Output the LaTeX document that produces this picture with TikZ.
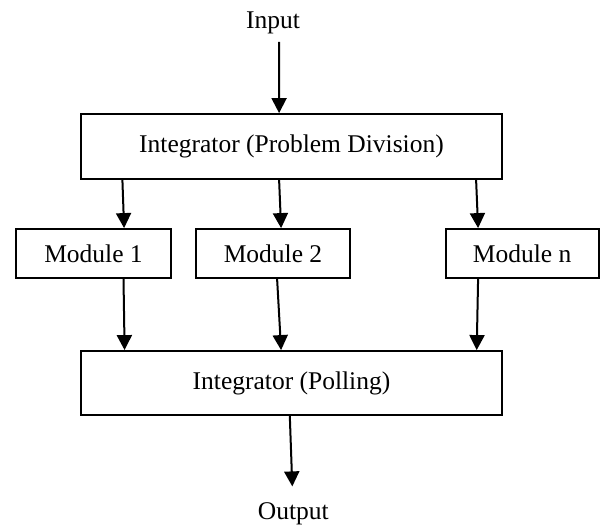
\documentclass[tikz,border=0pt]{standalone}
\usepackage{fontspec}
\setmainfont{Liberation Serif}
\usetikzlibrary{arrows.meta}
\begin{document}
\begin{tikzpicture}[x=1pt,y=-1pt,
  box/.style={draw=black, line width=1.8pt, rectangle, inner sep=0pt, anchor=center,
    font=\fontsize{25.5}{30}\selectfont},
  lbl/.style={inner sep=0pt, anchor=base, font=\fontsize{25.5}{30}\selectfont},
  arr/.style={line width=2pt, -{Triangle[width=15pt,length=15pt]}}]
\useasboundingbox (0,0) rectangle (600,526);
\node[lbl] (input) at (273,28.3) {Input};
\node[box, minimum width=421pt, minimum height=65pt] (top) at (291.5,146.5) {Integrator (Problem Division)};
\node[box, minimum width=154.4pt, minimum height=49pt] (m1) at (93.5,253.5) {Module 1};
\node[box, minimum width=154pt, minimum height=49pt] (m2) at (273,253.5) {Module 2};
\node[box, minimum width=153pt, minimum height=49pt] (mn) at (522.2,253.5) {Module n};
\node[box, minimum width=421pt, minimum height=64pt] (bot) at (291.5,383) {Integrator (Polling)};
\node[lbl] (output) at (293.3,519.5) {Output};
\draw[arr] ([xshift=6pt,yshift=-8pt]input.south) -- ([xshift=199pt]top.north west);
\draw[arr] ([xshift=42.3pt]top.south west) -- ([xshift=108.7pt]m1.north west);
\draw[arr] ([xshift=199pt]top.south west) -- ([xshift=86pt]m2.north west);
\draw[arr] ([xshift=396pt]top.south west) -- ([xshift=33.3pt]mn.north west);
\draw[arr] ([xshift=108.1pt]m1.south west) -- ([xshift=44.5pt]bot.north west);
\draw[arr] ([xshift=82pt]m2.south west) -- ([xshift=201pt]bot.north west);
\draw[arr] ([xshift=33.3pt]mn.south west) -- ([xshift=396.6pt]bot.north west);
\draw[arr] ([xshift=209.7pt]bot.south west) -- ([xshift=-1pt,yshift=16pt]output.north);
\end{tikzpicture}
\end{document}
